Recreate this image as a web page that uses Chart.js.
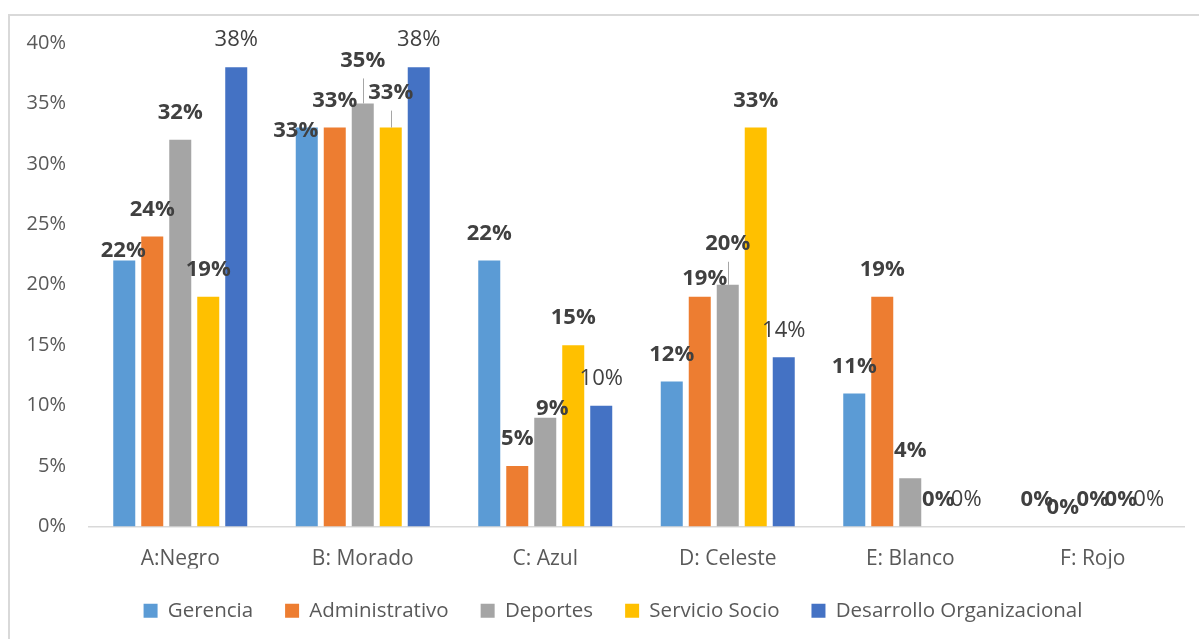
<!DOCTYPE html>
<html>
<head>
<meta charset="utf-8">
<script src="https://cdn.jsdelivr.net/npm/chart.js@4.4.1/dist/chart.umd.min.js"></script>
<style>
  html, body { margin: 0; padding: 0; background: #ffffff; overflow: hidden; }
  #frame { position: absolute; left: 8px; top: 14px; width: 1300px; height: 700px; border: 2px solid #d9d9d9; box-sizing: border-box; }
  #wrap { position: absolute; left: 0; top: 0; width: 1199px; height: 639px; }
</style>
</head>
<body>
<div id="frame"></div>
<div id="wrap"><canvas id="chart" width="1199" height="639"></canvas></div>
<script>
// Categories and series (percent values)
const categories = ['A:Negro', 'B: Morado', 'C: Azul', 'D: Celeste', 'E: Blanco', 'F: Rojo'];
const gerencia       = [22, 33, 22, 12, 11, 0];
const administrativo = [24, 33, 5, 19, 19, 0];
const deportes       = [32, 35, 9, 20, 4, 0];
const servicioSocio  = [19, 33, 15, 33, 0, 0];
const desarrolloOrg  = [38, 38, 10, 14, 0, 0];
const yTickValues    = [0, 5, 10, 15, 20, 25, 30, 35, 40];

const seriesNames  = ['Gerencia', 'Administrativo', 'Deportes', 'Servicio Socio', 'Desarrollo Organizacional'];
const seriesColors = ['#5B9BD5', '#ED7D31', '#A5A5A5', '#FFC000', '#4472C4'];
const seriesValues = [gerencia, administrativo, deportes, servicioSocio, desarrolloOrg];

// Hand-placed value labels: [dx, dy] nudges keyed "series:category"
const labelNudge = {
  '0:0': [-1, 17],
  '0:1': [-11, 30],
  '2:1': [0, -16],
  '3:1': [0, -8],
  '2:2': [7, 18],
  '1:3': [5, 9],
  '2:3': [0, -14],
  '1:5': [-2, 8]
};
// Labels lifted away from their bar get a thin leader line
const leaderLines = ['2:1', '3:1', '2:3'];

const FONT = "'Open Sans', 'Noto Sans', sans-serif";

const valueLabels = {
  id: 'valueLabels',
  afterDatasetsDraw(chart) {
    const ctx = chart.ctx;
    ctx.save();
    chart.data.datasets.forEach((ds, di) => {
      const meta = chart.getDatasetMeta(di);
      meta.data.forEach((bar, ci) => {
        const key = di + ':' + ci;
        const nudge = labelNudge[key] || [0, 0];
        const x = bar.x + nudge[0];
        const y = bar.y - 27 + nudge[1];
        if (leaderLines.includes(key)) {
          ctx.strokeStyle = '#a6a6a6';
          ctx.lineWidth = 1;
          ctx.beginPath();
          ctx.moveTo(Math.round(bar.x) + 0.5, bar.y);
          ctx.lineTo(Math.round(bar.x) + 0.5, y + 18);
          ctx.stroke();
        }
        ctx.font = (di < 4 ? 'bold ' : '') + '22px ' + FONT;
        ctx.fillStyle = '#404040';
        ctx.textAlign = 'center';
        ctx.textBaseline = 'middle';
        ctx.fillText(ds.data[ci] + '%', x, y);
      });
    });
    ctx.restore();
  }
};

// Centre the legend row under the plot area rather than the whole canvas
const legendShift = {
  id: 'legendShift',
  beforeDraw(chart) {
    const lg = chart.legend;
    if (lg && !lg._shifted) {
      lg.left += 21;
      lg.right += 21;
      lg._shifted = true;
    }
  }
};

new Chart(document.getElementById('chart'), {
  type: 'bar',
  data: {
    labels: categories,
    datasets: seriesNames.map((name, i) => ({
      label: name,
      data: seriesValues[i],
      backgroundColor: seriesColors[i],
      borderWidth: 0,
      categoryPercentage: 0.767,
      barPercentage: 0.786
    }))
  },
  options: {
    responsive: false,
    animation: false,
    devicePixelRatio: 1,
    layout: { padding: { top: 43, right: 15, bottom: 8, left: 0 } },
    plugins: {
      tooltip: { enabled: false },
      legend: {
        position: 'bottom',
        labels: {
          color: '#595959',
          font: { family: FONT, size: 20.5 },
          boxWidth: 14,
          boxHeight: 14,
          padding: 32
        }
      }
    },
    scales: {
      x: {
        grid: { display: false },
        border: { display: true, color: '#d9d9d9', width: 1.5 },
        ticks: { color: '#595959', font: { family: FONT, size: 21 }, padding: 12 },
        afterFit(scale) { scale.height = 42; }
      },
      y: {
        min: 0,
        max: 40,
        afterBuildTicks(scale) { scale.ticks = yTickValues.map(v => ({ value: v })); },
        grid: { display: false, drawTicks: false },
        border: { display: false },
        ticks: {
          color: '#595959',
          font: { family: FONT, size: 20 },
          padding: 23,
          callback: v => v + '%'
        },
        afterFit(scale) { scale.width = 89; }
      }
    }
  },
  plugins: [valueLabels, legendShift]
});
</script>
</body>
</html>
